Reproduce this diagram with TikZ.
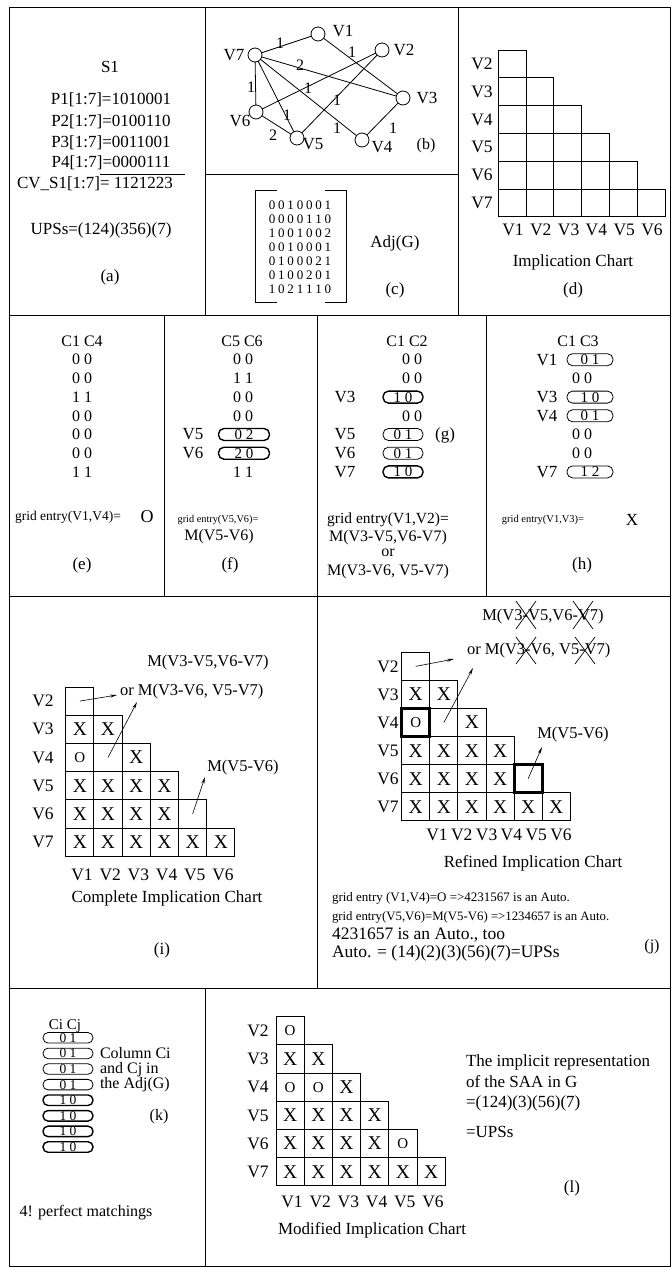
\documentclass[tikz,border=0pt]{standalone}
\usepackage{fontspec}
\setmainfont{Liberation Serif}
\usetikzlibrary{arrows.meta}
\newcommand\myfs[1]{\fontsize{#1}{#1}\selectfont}
\newcommand\mr[7]{#1\kern2.8pt#2\kern2.8pt#3\kern2.8pt#4\kern2.8pt#5\kern2.8pt#6\kern2.8pt#7}
\newcommand\oo{{\myfs{15}O}}
\newcommand\drawchart[5]{\foreach \ri/\ci/\tx in {#5}{\node[cellbox,minimum size=#4pt] (#1-\ri-\ci) at ({#2+(\ci-0.5)*#4},{#3+(\ri-0.5)*#4}) {\tx};}}
\newcommand\rowlabels[4]{\foreach \ri in {1,...,6}{\pgfmathtruncatemacro\vv{\ri+1}\node[fsz=17.5] (#1-r\ri) at (#2,{#3+(\ri-0.5)*#4}) {V\vv};}}
\newcommand\collabels[4]{\foreach \ci in {1,...,6}{\node[fsz=17.5] (#1-c\ci) at ({#2+(\ci-1)*#3},#4) {V\ci};}}
\begin{document}
\begin{tikzpicture}[x=1pt,y=-1pt,
  every node/.style={inner sep=0pt,outer sep=0pt,anchor=center},
  fsz/.style={font=\myfs{#1}},
  frame/.style={line width=0.9pt},
  cellbox/.style={draw,line width=1pt,minimum size=28pt,font=\myfs{19.5}},
  vtx/.style={circle,draw,line width=0.8pt,minimum size=14pt},
  edge/.style={line width=0.8pt},
  oval/.style={draw,line width=0.8pt,rounded corners=5.5pt,minimum height=12pt,font=\myfs{15}},
  thk/.style={line width=1.4pt},
  arr/.style={line width=0.6pt,-{Stealth[length=7pt,width=3pt]}},
  cross/.style={line width=0.7pt}]
\useasboundingbox (0,0) rectangle (671,1267);
% ---------------- frames
\draw[frame] (9,7) rectangle (670,1266);
\draw[frame] (205,7) -- (205,315);
\draw[frame] (458,7) -- (458,315);
\draw[frame] (205,174) -- (458,174);
\draw[frame] (9,315) -- (670,315);
\draw[frame] (164,315) -- (164,596);
\draw[frame] (317,315) -- (317,596);
\draw[frame] (486,315) -- (486,596);
\draw[frame] (9,596) -- (670,596);
\draw[frame] (317,596) -- (317,988);
\draw[frame] (9,988) -- (670,988);
\draw[frame] (205,988) -- (205,1266);
% ---------------- (a)
\node[fsz=17] (a-s1) at (110,67) {S1};
\node[fsz=17] (a-p1) at (111,100) {P1[1:7]=1010001};
\node[fsz=17] (a-p2) at (111,122) {P2[1:7]=0100110};
\node[fsz=17] (a-p3) at (111,143) {P3[1:7]=0011001};
\node[fsz=17] (a-p4) at (111,163) {P4[1:7]=0000111};
\draw[line width=0.8pt] (100,174) -- (185,174);
\node[fsz=17,anchor=west] (a-cv) at (17,184) {CV\_S1[1:7]= 1121223};
\node[fsz=17] (a-ups) at (101,230) {UPSs=(124)(356)(7)};
\node[fsz=17] (a-lab) at (110,277) {(a)};
% ---------------- (b) graph
\node[vtx] (v1) at (318,34) {};
\node[vtx] (v2) at (382,50) {};
\node[vtx] (v3) at (403,98) {};
\node[vtx] (v4) at (362,140) {};
\node[vtx] (v5) at (297,138) {};
\node[vtx] (v6) at (256,112) {};
\node[vtx] (v7) at (255,55) {};
\node[fsz=17] (v1l) at (343,31) {V1};
\node[fsz=17] (v2l) at (404,50) {V2};
\node[fsz=17] (v3l) at (427,98) {V3};
\node[fsz=17] (v4l) at (382,147) {V4};
\node[fsz=17] (v5l) at (313,144) {V5};
\node[fsz=17] (v6l) at (240,121) {V6};
\node[fsz=17] (v7l) at (234,55) {V7};
\node[fsz=16] (b-lab) at (426,146) {(b)};
\draw[edge] (v7) -- (v1) node[fsz=16] (e71) at (280,43) {1};
\draw[edge] (v1) -- (v3) node[fsz=16] (e13) at (352,52) {1};
\draw[edge] (v7) -- (v3) node[fsz=16] (e73) at (300,65) {2};
\draw[edge] (v6) -- (v2) node[fsz=16] (e62) at (308,88) {1};
\draw[edge] (v5) -- (v2) node[fsz=16] (e52) at (337,100) {1};
\draw[edge] (v7) -- (v6) node[fsz=16] (e76) at (251,87) {1};
\draw[edge] (v7) -- (v5) node[fsz=16] (e75) at (287,115) {1};
\draw[edge] (v7) -- (v4) node[fsz=16] (e74) at (337,128) {1};
\draw[edge] (v4) -- (v3) node[fsz=16] (e43) at (393,128) {1};
\draw[edge] (v6) -- (v5) node[fsz=16] (e65) at (273,135) {2};
% ---------------- (c) matrix
\draw[line width=0.9pt] (277,190) -- (255,190) -- (255,302) -- (277,302);
\draw[line width=0.9pt] (325,190) -- (346,190) -- (346,302) -- (325,302);
\node[fsz=13] (c-m1) at (300,205) {\mr0010001};
\node[fsz=13] (c-m2) at (300,219) {\mr0000110};
\node[fsz=13] (c-m3) at (300,233) {\mr1001002};
\node[fsz=13] (c-m4) at (300,247) {\mr0010001};
\node[fsz=13] (c-m5) at (300,261) {\mr0100021};
\node[fsz=13] (c-m6) at (300,275) {\mr0100201};
\node[fsz=13] (c-m7) at (300,289) {\mr1021110};
\node[fsz=17] (c-adj) at (395,243) {Adj(G)};
\node[fsz=17] (c-lab) at (395,290) {(c)};
% ---------------- (d) chart
\drawchart{d}{498.3}{50}{27.8}{1/1/{},2/1/{},2/2/{},3/1/{},3/2/{},3/3/{},4/1/{},4/2/{},4/3/{},4/4/{},5/1/{},5/2/{},5/3/{},5/4/{},5/5/{},6/1/{},6/2/{},6/3/{},6/4/{},6/5/{},6/6/{}}
\rowlabels{d}{482}{50}{27.8}
\collabels{d}{513}{27.8}{230}
\node[fsz=17] (d-title) at (573,262) {Implication Chart};
\node[fsz=17] (d-lab) at (573,290) {(d)};
% ---------------- (e)
\node[fsz=16] (e-h) at (82,341) {C1 C4};
\foreach \k/\v in {1/0 0,2/0 0,3/1 1,4/0 0,5/0 0,6/0 0,7/1 1}{\node[fsz=16] (e-v\k) at (82,{341+18.7*\k}) {\v};}
\node[fsz=13.5] (e-g) at (68,517) {grid entry(V1,V4)=};
\node[fsz=18] (e-o) at (147,517) {O};
\node[fsz=17] (e-lab) at (82,565) {(e)};
% ---------------- (f)
\node[fsz=16] (f-h) at (242,341) {C5 C6};
\foreach \k/\v in {1/0 0,2/1 1,3/0 0,4/0 0,7/1 1}{\node[fsz=16] (f-v\k) at (243,{341+18.7*\k}) {\v};}
\node[oval,thk,minimum width=51pt] (f-o5) at (244,434.5) {0 2};
\node[oval,thk,minimum width=51pt] (f-o6) at (244,453.2) {2 0};
\node[fsz=17] (f-l5) at (193,434.5) {V5};
\node[fsz=17] (f-l6) at (193,453.2) {V6};
\node[fsz=10.3] (f-g) at (218,520) {grid entry(V5,V6)=};
\node[fsz=16] (f-m) at (219,537) {M(V5-V6)};
\node[fsz=17] (f-lab) at (230,565) {(f)};
% ---------------- (g)
\node[fsz=16] (g-h) at (407,341) {C1 C2};
\foreach \k/\v in {1/0 0,2/0 0,4/0 0}{\node[fsz=16] (g-v\k) at (412,{341+18.7*\k}) {\v};}
\node[oval,thk,minimum width=40pt] (g-o3) at (403,397.1) {1 0};
\node[oval,minimum width=40pt] (g-o5) at (403,434.5) {0 1};
\node[oval,minimum width=40pt] (g-o6) at (403,453.2) {0 1};
\node[oval,thk,minimum width=40pt] (g-o7) at (403,471.9) {1 0};
\node[fsz=17] (g-l3) at (345,397.1) {V3};
\node[fsz=17] (g-l5) at (345,434.5) {V5};
\node[fsz=17] (g-l6) at (345,453.2) {V6};
\node[fsz=17] (g-l7) at (345,471.9) {V7};
\node[fsz=17] (g-lab) at (445,435) {(g)};
\node[fsz=15.5] (g-g) at (388,520) {grid entry(V1,V2)=};
\node[fsz=16] (g-m1) at (388,538) {M(V3-V5,V6-V7)};
\node[fsz=16] (g-or) at (388,553) {or};
\node[fsz=16] (g-m2) at (388,572) {M(V3-V6, V5-V7)};
% ---------------- (h)
\node[fsz=16] (h-h) at (578,341) {C1 C3};
\foreach \k/\v in {2/0 0,5/0 0,6/0 0}{\node[fsz=16] (h-v\k) at (582,{341+18.7*\k}) {\v};}
\node[oval,minimum width=46pt] (h-o1) at (590,359.7) {0 1};
\node[oval,minimum width=46pt] (h-o3) at (590,397.1) {1 0};
\node[oval,minimum width=46pt] (h-o4) at (590,415.8) {0 1};
\node[oval,minimum width=46pt] (h-o7) at (590,471.9) {1 2};
\node[fsz=17] (h-l1) at (547,359.7) {V1};
\node[fsz=17] (h-l3) at (547,397.1) {V3};
\node[fsz=17] (h-l4) at (547,415.8) {V4};
\node[fsz=17] (h-l7) at (547,471.9) {V7};
\node[fsz=10.5] (h-g) at (543,520) {grid entry(V1,V3)=};
\node[fsz=17] (h-x) at (632,520) {X};
\node[fsz=17] (h-lab) at (582,565) {(h)};
% ---------------- (i)
\drawchart{i}{65.7}{687}{28.2}{1/1/{},2/1/X,2/2/X,3/1/\oo,3/2/{},3/3/X,4/1/X,4/2/X,4/3/X,4/4/X,5/1/X,5/2/X,5/3/X,5/4/X,5/5/{},6/1/X,6/2/X,6/3/X,6/4/X,6/5/X,6/6/X}
\rowlabels{i}{43}{687}{28.2}
\collabels{i}{82}{28.2}{875}
\node[fsz=16.5] (i-m1) at (208,663) {M(V3-V5,V6-V7)};
\node[fsz=16.5,anchor=west] (i-m2) at (120,692) {or\ M(V3-V6, V5-V7)};
\node[fsz=16.5] (i-m3) at (243,768) {M(V5-V6)};
\coordinate (i-t1) at (117,695);
\coordinate (i-t2) at (137,702);
\coordinate (i-t3) at (205,777);
\draw[arr] (i-1-1.center) -- (i-t1);
\draw[arr] (i-3-2.center) -- (i-t2);
\draw[arr] (i-5-5.center) -- (i-t3);
\node[fsz=17] (i-title) at (167,898) {Complete Implication Chart};
\node[fsz=17] (i-lab) at (162,950) {(i)};
% ---------------- (j)
\drawchart{j}{401.7}{652.3}{28.1}{1/1/{},2/1/X,2/2/X,3/1/\oo,3/2/{},3/3/X,4/1/X,4/2/X,4/3/X,4/4/X,5/1/X,5/2/X,5/3/X,5/4/X,5/5/{},6/1/X,6/2/X,6/3/X,6/4/X,6/5/X,6/6/X}
\draw[line width=3pt] (j-3-1.north west) rectangle (j-3-1.south east);
\draw[line width=3pt] (j-5-5.north west) rectangle (j-5-5.south east);
\rowlabels{j}{388}{652.3}{28.1}
\collabels{j}{437}{24.8}{835}
\node[fsz=16.5] (j-m1) at (543,617) {M(V3-V5,V6-V7)};
\node[fsz=16.5,anchor=west] (j-m2) at (467,651) {or\ M(V3-V6, V5-V7)};
\node[fsz=16.5] (j-m3) at (573,735) {M(V5-V6)};
\draw[cross] (516,601) -- (536,629) (536,601) -- (516,629);
\draw[cross] (573,601) -- (593,629) (593,601) -- (573,629);
\draw[cross] (516,637) -- (536,664) (536,637) -- (516,664);
\draw[cross] (575,637) -- (595,664) (595,637) -- (575,664);
\coordinate (j-t1) at (454,659);
\coordinate (j-t2) at (473,668);
\coordinate (j-t3) at (542,747);
\draw[arr] (j-1-1.center) -- (j-t1);
\draw[arr] (j-3-2.center) -- (j-t2);
\draw[arr] (j-5-5.center) -- (j-t3);
\node[fsz=17] (j-title) at (533,863) {Refined Implication Chart};
\node[fsz=13,anchor=west] (j-t-a) at (332,898) {grid entry (V1,V4)=O =>4231567 is an Auto.};
\node[fsz=12.8,anchor=west] (j-t-b) at (332,917) {grid entry(V5,V6)=M(V5-V6) =>1234657 is an Auto.};
\node[fsz=17.5,anchor=west] (j-t-c) at (332,935) {4231657 is an Auto., too};
\node[fsz=17.5,anchor=west] (j-t-d) at (332,953) {Auto. = (14)(2)(3)(56)(7)=UPSs};
\node[fsz=16] (j-lab) at (652,947) {(j)};
% ---------------- (k)
\node[fsz=15] (k-h) at (65,1026) {Ci Cj};
\foreach \k/\v/\w in {1/0 1/0.8,2/0 1/0.8,3/0 1/0.8,4/0 1/0.8,5/1 0/1.4,6/1 0/1.4,7/1 0/1.4,8/1 0/1.4}{\node[oval,line width=\w pt,minimum width=50pt,minimum height=10.5pt,rounded corners=5pt,font=\myfs{13.5}] (k-o\k) at (68,{1022.2+15.6*\k}) {\v};}
\node[fsz=16,anchor=west] (k-t1) at (100,1053) {Column Ci};
\node[fsz=16,anchor=west] (k-t2) at (100,1070) {and Cj in};
\node[fsz=16,anchor=west] (k-t3) at (100,1085) {the Adj(G)};
\node[fsz=16] (k-lab) at (159,1117) {(k)};
\node[fsz=16] (k-pm) at (86,1213) {4! perfect matchings};
% ---------------- (l)
\drawchart{l}{276}{1016.7}{28.2}{1/1/\oo,2/1/X,2/2/X,3/1/\oo,3/2/\oo,3/3/X,4/1/X,4/2/X,4/3/X,4/4/X,5/1/X,5/2/X,5/3/X,5/4/X,5/5/\oo,6/1/X,6/2/X,6/3/X,6/4/X,6/5/X,6/6/X}
\rowlabels{l}{258}{1016.7}{28.2}
\collabels{l}{292}{28.2}{1202}
\node[fsz=17] (l-title) at (372,1230) {Modified Implication Chart};
\node[fsz=17,anchor=west] (l-t1) at (466,1062) {The implicit representation};
\node[fsz=17,anchor=west] (l-t2) at (466,1082) {of the SAA in G};
\node[fsz=17,anchor=west] (l-t3) at (466,1103) {=(124)(3)(56)(7)};
\node[fsz=17,anchor=west] (l-t4) at (466,1132) {=UPSs};
\node[fsz=17] (l-lab) at (572,1188) {(l)};
\end{tikzpicture}
\end{document}
